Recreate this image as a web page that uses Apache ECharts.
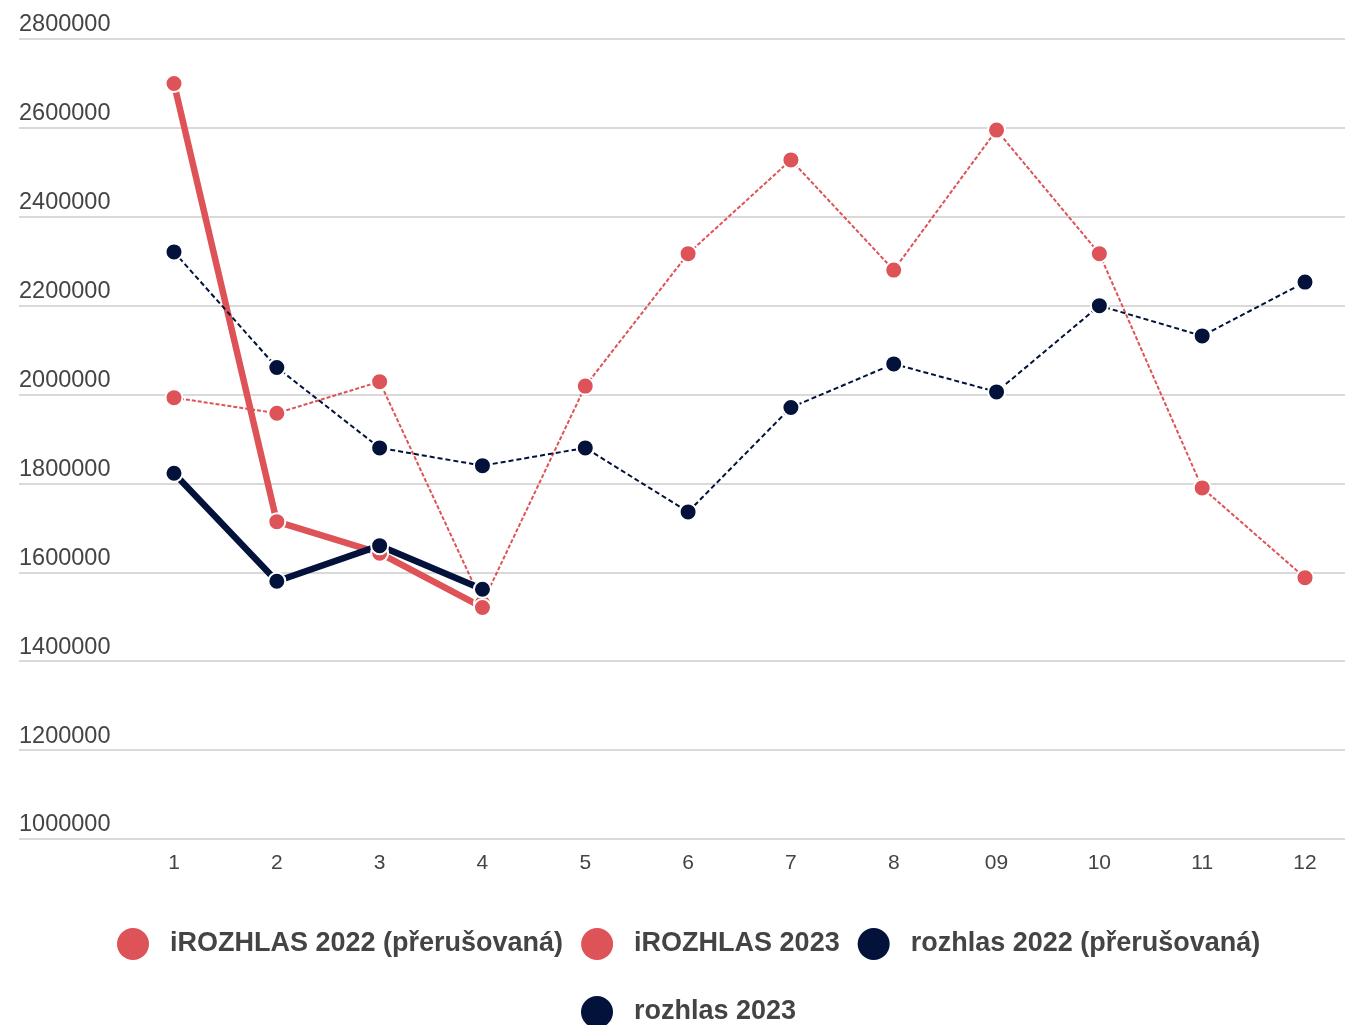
<!DOCTYPE html>
<html>
<head>
<meta charset="utf-8">
<script src="https://cdn.jsdelivr.net/npm/echarts@6/dist/echarts.min.js"></script>
<style>
html,body{margin:0;padding:0;background:#fff;}
#chart{width:1345px;height:1025px;}
</style>
</head>
<body>
<div id="chart"></div>
<script>
var months = ['1','2','3','4','5','6','7','8','09','10','11','12'];
var yTicks = {min: 1000000, max: 2800000, interval: 200000};
var seriesNames = ['iROZHLAS 2022 (přerušovaná)', 'iROZHLAS 2023', 'rozhlas 2022 (přerušovaná)', 'rozhlas 2023'];
var irozhlas2022 = [1993000, 1958000, 2029000, 1531000, 2019000, 2317000, 2528000, 2280000, 2595000, 2317000, 1790000, 1588000];
var irozhlas2023 = [2700000, 1714000, 1643000, 1521000];
var rozhlas2022 = [2321000, 2061000, 1880000, 1840000, 1880000, 1736000, 1971000, 2069000, 2006000, 2200000, 2132000, 2253000];
var rozhlas2023 = [1823000, 1580000, 1660000, 1562000];

var RED = '#dd5357';
var NAVY = '#02123b';
var TEXT = '#444444';
var FONT = 'Liberation Sans, Arial, sans-serif';

function mk(name, data, color, solid) {
  return {
    name: name,
    type: 'line',
    xAxisIndex: 1,
    yAxisIndex: 1,
    data: data,
    symbol: 'circle',
    symbolSize: 17,
    showSymbol: true,
    itemStyle: {color: color, borderColor: '#ffffff', borderWidth: 2},
    lineStyle: solid ? {color: color, width: 6.5, type: 'solid'} :
      {color: color, width: 2, type: (color === RED ? [4, 2] : [5, 3])},
    emphasis: {disabled: true},
    animation: false
  };
}

var legendText = {fontSize: 27, fontWeight: 'bold', color: TEXT, padding: [0, 0, 0, 16], fontFamily: FONT};

var chart = echarts.init(document.getElementById('chart'));
chart.setOption({
  backgroundColor: '#ffffff',
  animation: false,
  grid: [
    {left: 19, right: 0, top: 39, bottom: 186},
    {left: 174, right: 40, top: 39, bottom: 186}
  ],
  xAxis: [
    {gridIndex: 0, type: 'value', show: false, min: 0, max: 1},
    {gridIndex: 1, type: 'category', data: months, boundaryGap: false,
     axisLine: {show: false}, axisTick: {show: false}, splitLine: {show: false},
     axisLabel: {fontSize: 21, color: TEXT, margin: 14, fontFamily: FONT}}
  ],
  yAxis: [
    {gridIndex: 0, type: 'value', min: yTicks.min, max: yTicks.max, interval: yTicks.interval,
     axisLine: {show: false}, axisTick: {show: false},
     splitLine: {show: true, lineStyle: {color: '#d9d9d9', width: 2}},
     axisLabel: {inside: true, margin: 0, verticalAlign: 'bottom', fontSize: 23.5, color: TEXT,
       padding: [0, 0, 2, 0], fontFamily: FONT,
       formatter: function (v) { return String(v); }}},
    {gridIndex: 1, type: 'value', min: yTicks.min, max: yTicks.max, interval: yTicks.interval, show: false,
     splitLine: {show: false}}
  ],
  legend: [
    {data: seriesNames.slice(0, 3), left: 117, top: 928, padding: 0, icon: 'circle', itemWidth: 32, itemHeight: 32,
     itemGap: 18, itemStyle: {borderWidth: 0}, textStyle: legendText},
    {data: seriesNames.slice(3), left: 581, top: 996, padding: 0, icon: 'circle', itemWidth: 32, itemHeight: 32,
     itemGap: 18, itemStyle: {borderWidth: 0}, textStyle: legendText}
  ],
  series: [
    mk(seriesNames[0], irozhlas2022, RED, false),
    mk(seriesNames[1], irozhlas2023, RED, true),
    mk(seriesNames[2], rozhlas2022, NAVY, false),
    mk(seriesNames[3], rozhlas2023, NAVY, true)
  ]
});
</script>
</body>
</html>
